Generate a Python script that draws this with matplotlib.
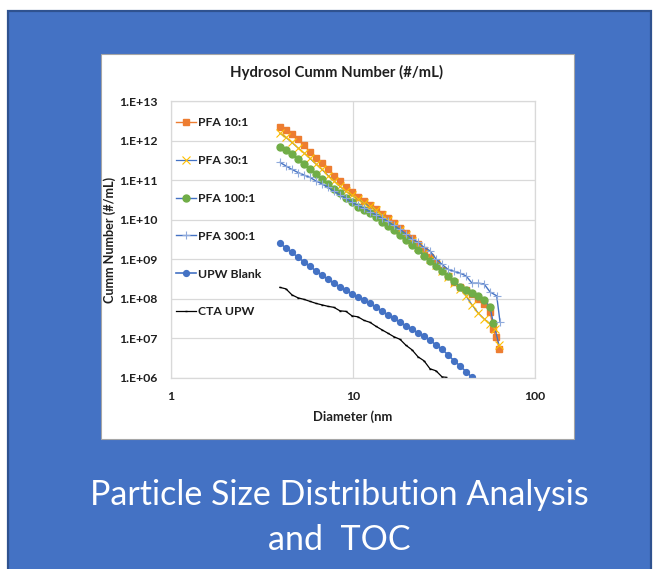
import matplotlib
matplotlib.use("Agg")
import matplotlib.pyplot as plt
from matplotlib.patches import Rectangle

plt.rcParams['font.family'] = ['Lato', 'DejaVu Sans']

# ---------------- data ----------------
x_pfa = [3.97, 4.28, 4.62, 4.99, 5.38, 5.80, 6.26, 6.75, 7.29, 7.86, 8.48, 9.15,
         9.87, 10.65, 11.49, 12.40, 13.38, 14.43, 15.57, 16.80, 18.13, 19.55, 21.10,
         22.76, 24.56, 26.49, 28.58, 30.83, 33.27, 35.89, 38.72, 41.78, 45.07, 48.63,
         52.47, 56.6]

x_pfa10 = x_pfa + [59.0, 61.1, 63.7]
y_pfa10 = [2.24e12, 1.80e12, 1.43e12, 1.07e12, 7.52e11, 5.25e11, 3.70e11, 2.64e11,
           1.86e11, 1.31e11, 9.27e10, 6.73e10, 5.04e10, 3.77e10, 2.90e10, 2.30e10,
           1.82e10, 1.40e10, 1.08e10, 8.30e9, 6.21e9, 4.64e9, 3.37e9, 2.38e9, 1.68e9,
           1.15e9, 7.87e8, 5.25e8, 3.70e8, 2.69e8, 2.05e8, 1.64e8, 1.30e8, 1.00e8,
           7.48e7, 4.78e7, 1.75e7, 1.08e7, 5.46e6]

x_pfa30 = x_pfa + [60.3, 63.4]
y_pfa30 = [1.53e12, 1.20e12, 8.95e11, 6.50e11, 4.86e11, 3.53e11, 2.56e11, 1.86e11,
           1.31e11, 9.55e10, 6.93e10, 5.19e10, 4.11e10, 3.26e10, 2.65e10, 2.17e10,
           1.72e10, 1.32e10, 9.89e9, 7.39e9, 5.53e9, 4.02e9, 2.92e9, 2.06e9, 1.41e9,
           9.94e8, 7.01e8, 4.95e8, 3.49e8, 2.46e8, 1.79e8, 1.19e8, 7.05e7, 4.43e7,
           3.13e7, 2.34e7, 1.75e7, 6.89e6]

x_pfa100 = x_pfa + [59.0]
y_pfa100 = [7.02e11, 5.79e11, 4.59e11, 3.43e11, 2.56e11, 1.92e11, 1.43e11, 1.07e11,
            8.02e10, 6.00e10, 4.61e10, 3.56e10, 2.74e10, 2.11e10, 1.72e10, 1.44e10,
            1.14e10, 8.80e9, 6.97e9, 5.37e9, 4.02e9, 3.09e9, 2.31e9, 1.68e9, 1.22e9,
            9.12e8, 6.81e8, 5.09e8, 3.81e8, 2.77e8, 2.01e8, 1.69e8, 1.38e8, 1.19e8,
            9.16e7, 6.39e7, 2.43e7]

x_pfa300 = x_pfa + [61.6, 64.2]
y_pfa300 = [2.80e11, 2.29e11, 1.86e11, 1.56e11, 1.35e11, 1.17e11, 9.55e10, 8.02e10,
            6.55e10, 5.19e10, 4.23e10, 3.45e10, 2.74e10, 2.30e10, 1.93e10, 1.60e10,
            1.35e10, 1.11e10, 9.06e9, 7.18e9, 5.69e9, 4.38e9, 3.27e9, 2.67e9, 2.00e9,
            1.63e9, 1.02e9, 7.43e8, 5.56e8, 4.95e8, 4.46e8, 3.81e8, 2.49e8, 2.49e8,
            2.39e8, 1.50e8, 1.19e8, 2.67e7]

x_upw = x_pfa[:33]
y_upw = [2.52e9, 1.94e9, 1.49e9, 1.12e9, 8.60e8, 6.62e8, 5.09e8, 3.92e8, 3.10e8,
         2.46e8, 2.01e8, 1.64e8, 1.34e8, 1.09e8, 9.16e7, 7.69e7, 6.10e7, 4.83e7,
         3.94e7, 3.22e7, 2.55e7, 2.08e7, 1.70e7, 1.38e7, 1.13e7, 8.96e6, 6.89e6,
         5.31e6, 3.85e6, 2.72e6, 2.03e6, 1.44e6, 1.04e6]

x_cta = x_pfa[:28] + [32.4]
y_cta = [1.95e8, 1.79e8, 1.26e8, 1.06e8, 9.71e7, 8.65e7, 7.69e7, 7.05e7, 6.47e7,
         6.10e7, 4.98e7, 4.83e7, 3.72e7, 3.51e7, 2.86e7, 2.55e7, 2.02e7, 1.65e7,
         1.35e7, 1.10e7, 9.49e6, 6.70e6, 5.15e6, 3.43e6, 2.72e6, 1.71e6, 1.52e6,
         1.07e6, 1.04e6]

series_names = ["PFA 10:1", "PFA 30:1", "PFA 100:1", "PFA 300:1", "UPW Blank", "CTA UPW"]

x_ticks = [1, 10, 100]
x_ticklabels = ["1", "10", "100"]
y_ticks = [1e6, 1e7, 1e8, 1e9, 1e10, 1e11, 1e12, 1e13]
y_ticklabels = ["1.E+06", "1.E+07", "1.E+08", "1.E+09", "1.E+10", "1.E+11", "1.E+12", "1.E+13"]

title = "Hydrosol Cumm Number (#/mL)"
xlabel = "Diameter (nm"
ylabel = "Cumm Number (#/mL)"
caption1 = "Particle Size Distribution Analysis"
caption2 = "and  TOC"

# ---------------- figure ----------------
W, H = 654, 569
fig = plt.figure(figsize=(W / 100, H / 100), dpi=100)
fig.patch.set_facecolor("white")

def fx(px):
    return px / W

def fy(py):
    return 1 - py / H

fig.add_artist(Rectangle((fx(8), -0.02), fx(643), fy(11) + 0.02, transform=fig.transFigure,
                         facecolor="#4472C4", edgecolor="#2F528F", lw=1.6, zorder=-3))
fig.add_artist(Rectangle((fx(101), fy(439)), fx(473), (439 - 54) / H, transform=fig.transFigure,
                         facecolor="white", edgecolor="#A6A6A6", lw=0.8, zorder=-2))

ax = fig.add_axes([fx(171), fy(378), fx(364), 277 / H])
ax.set_facecolor("none")
ax.set_xscale("log")
ax.set_yscale("log")
ax.set_xlim(1, 100)
ax.set_ylim(1e6, 1e13)

tc = "#1f1f1f"
ax.set_xticks(x_ticks)
ax.set_xticklabels(x_ticklabels, fontsize=8.8, fontweight="bold", color=tc)
ax.set_yticks(y_ticks)
ax.set_yticklabels(y_ticklabels, fontsize=8.8, fontweight="bold", color=tc)
ax.minorticks_off()
ax.tick_params(axis="both", length=0)
ax.tick_params(axis="y", pad=9.5)
ax.tick_params(axis="x", pad=9.0)
ax.grid(True, color="#D9D9D9", lw=0.9)
ax.set_axisbelow(True)
for s in ax.spines.values():
    s.set_color("#D9D9D9")
    s.set_linewidth(0.9)

blue = "#4472C4"
ax.plot(x_pfa10, y_pfa10, color="#ED7D31", lw=1.0, marker="s", ms=5.0, mec="#ED7D31",
        mfc="#ED7D31", label=series_names[0])
ax.plot(x_pfa30, y_pfa30, color=blue, lw=0.9, marker="x", ms=5.5, mew=0.8,
        mec="#FFC000", label=series_names[1])
ax.plot(x_pfa100, y_pfa100, color=blue, lw=1.0, marker="o", ms=5.0, mec="#70AD47",
        mfc="#70AD47", label=series_names[2])
ax.plot(x_pfa300, y_pfa300, color=blue, lw=1.0, marker="+", ms=6.0, mew=0.8,
        mec="#8FAADC", label=series_names[3])
ax.plot(x_upw, y_upw, color=blue, lw=1.2, marker="o", ms=4.2, mec=blue, mfc=blue,
        label=series_names[4])
ax.plot(x_cta, y_cta, color="black", lw=0.9, marker="_", ms=2, mec="black",
        label=series_names[5])

leg = ax.legend(loc="upper left", bbox_to_anchor=(fx(176), fy(117.0)),
                bbox_transform=fig.transFigure, frameon=False,
                prop={"weight": "bold", "size": 8.8}, labelspacing=2.2,
                handlelength=1.6, handletextpad=0.2, borderpad=0, borderaxespad=0)
for t in leg.get_texts():
    t.set_color(tc)

t_title = fig.text(fx(336), fy(72.7), title, ha="center", va="center",
                   fontsize=10, fontweight="bold", color=tc)
t_x = fig.text(fx(353), fy(416.7), xlabel, ha="center", va="center",
               fontsize=8.5, fontweight="bold", color=tc)
t_y = fig.text(fx(110), fy(239.5), ylabel, ha="center", va="center", rotation=90,
               fontsize=8.5, fontweight="bold", color=tc)
t_c1 = fig.text(fx(339), fy(495), caption1, ha="center", va="center",
                fontsize=22, color="white")
t_c2 = fig.text(fx(339), fy(540), caption2, ha="center", va="center",
                fontsize=22, color="white")

# fit text widths to the reference
fig.canvas.draw()
r = fig.canvas.get_renderer()
def fit(t, target, vertical=False):
    bb = t.get_window_extent(r)
    cur = bb.height if vertical else bb.width
    t.set_fontsize(t.get_fontsize() * target / cur)
fit(t_title, 214)
fit(t_x, 79)
fit(t_y, 126, vertical=True)
fit(t_c1, 498)
t_c2.set_fontsize(t_c1.get_fontsize())

fig.savefig("out.png", dpi=100)
